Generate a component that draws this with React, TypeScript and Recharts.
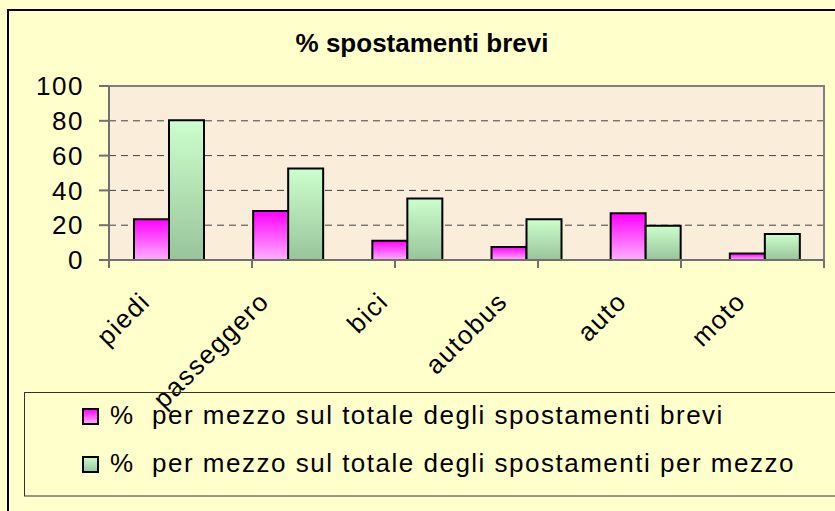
import React from 'react';
import { BarChart, Bar, XAxis, YAxis, CartesianGrid, ReferenceArea, Legend } from 'recharts';

const categories = ['piedi', 'passeggero', 'bici', 'autobus', 'auto', 'moto'];
const shortTripShare = [23.4, 28.1, 11.1, 7.5, 26.8, 3.8];
const perModeShare = [80.3, 52.6, 35.4, 23.4, 19.7, 14.9];
const yTicks = [0, 20, 40, 60, 80, 100];
const seriesNames = [
  '%  per mezzo sul totale degli spostamenti brevi',
  '%  per mezzo sul totale degli spostamenti per mezzo',
];
const chartTitle = '% spostamenti brevi';

const data = categories.map((c, i) => ({ name: c, brevi: shortTripShare[i], mezzo: perModeShare[i] }));
const boundaryTicks = [...categories.map((_, i) => i), categories.length];

const FONT = "'Liberation Sans', Arial, sans-serif";
const AXIS = '#707070';
const FS = 26;
const LS = 1.5;

const CatTick = (props: any) => {
  const { x, y, payload } = props;
  return (
    <g transform={`translate(${x - 17},${y + 42})`}>
      <text
        transform="rotate(-45)"
        textAnchor="end"
        fontSize={FS}
        letterSpacing={LS}
        fill="#000"
        fontFamily={FONT}
      >
        {payload.value}
      </text>
    </g>
  );
};

const EmptyTick = () => <g />;

const LegendBox = (props: any) => {
  const payload = props.payload || [];
  return (
    <svg width={830} height={110} style={{ display: 'block', overflow: 'visible' }}>
      <defs>
        <linearGradient id="lgPink" x1="0" y1="0" x2="0" y2="1">
          <stop offset="0%" stopColor="#ff00ff" />
          <stop offset="100%" stopColor="#ffb0ff" />
        </linearGradient>
        <linearGradient id="lgGreen" x1="0" y1="0" x2="0" y2="1">
          <stop offset="0%" stopColor="#ccffcc" />
          <stop offset="100%" stopColor="#99c49b" />
        </linearGradient>
      </defs>
      <rect x={0.5} y={0.5} width={829} height={103.5} fill="none" stroke="#333" strokeWidth={1} />
      {payload.map((entry: any, i: number) => (
        <g key={String(entry.dataKey)} transform={`translate(0,${i * 48})`}>
          <rect
            x={59}
            y={17}
            width={15}
            height={15}
            fill={entry.dataKey === 'brevi' ? 'url(#lgPink)' : 'url(#lgGreen)'}
            stroke="#000"
            strokeWidth={2}
          />
          <text
            x={86}
            y={32}
            fontSize={FS}
            letterSpacing={LS}
            fontFamily={FONT}
            fill="#000"
            style={{ whiteSpace: 'pre' }}
          >
            {entry.value}
          </text>
        </g>
      ))}
    </svg>
  );
};

export default function App() {
  return (
    <div
      style={{
        position: 'absolute',
        left: 0,
        top: 0,
        width: 835,
        height: 511,
        background: '#ffffcc',
        overflow: 'hidden',
        fontFamily: FONT,
      }}
    >
      <div
        style={{
          position: 'absolute',
          left: 7,
          top: 9,
          width: 1000,
          height: 1000,
          borderLeft: '2px solid #000',
          borderTop: '2px solid #000',
        }}
      />
      <div style={{ position: 'absolute', left: 0, top: 0 }}>
        <BarChart
          width={835}
          height={511}
          data={data}
          margin={{ top: 86, right: 11, left: 0, bottom: 111 }}
          barGap={0}
          barSize={35}
        >
          <defs>
            <linearGradient id="gPink" x1="0" y1="0" x2="0" y2="1">
              <stop offset="0%" stopColor="#ff00ff" />
              <stop offset="100%" stopColor="#ffb0ff" />
            </linearGradient>
            <linearGradient id="gGreen" x1="0" y1="0" x2="0" y2="1">
              <stop offset="0%" stopColor="#ccffcc" />
              <stop offset="100%" stopColor="#99c49b" />
            </linearGradient>
          </defs>
          <CartesianGrid
            vertical={false}
            fill="#faeedb"
            fillOpacity={1}
            stroke="#404040"
            strokeDasharray="7 5"
            xAxisId="cat"
          />
          <XAxis
            xAxisId="b"
            type="number"
            domain={[0, categories.length]}
            ticks={boundaryTicks}
            allowDataOverflow
            interval={0}
            tick={<EmptyTick />}
            tickSize={8}
            height={1}
            axisLine={{ stroke: AXIS, strokeWidth: 2 }}
            tickLine={{ stroke: AXIS, strokeWidth: 2 }}
          />
          <XAxis
            xAxisId="cat"
            dataKey="name"
            interval={0}
            height={139}
            axisLine={false}
            tickLine={false}
            tickSize={0}
            tickMargin={0}
            tick={<CatTick />}
          />
          <YAxis
            domain={[0, 100]}
            ticks={yTicks}
            width={109}
            tickSize={10}
            tickMargin={15}
            interval={0}
            axisLine={{ stroke: AXIS, strokeWidth: 2 }}
            tickLine={{ stroke: AXIS, strokeWidth: 2 }}
            tick={{ fill: '#000', fontSize: FS, fontFamily: FONT, letterSpacing: LS }}
          />
          <ReferenceArea
            xAxisId="cat"
            y1={0}
            y2={100}
            fill="none"
            stroke="#808080"
            strokeWidth={2}
          />
          <Bar
            xAxisId="cat"
            dataKey="brevi"
            name={seriesNames[0]}
            fill="url(#gPink)"
            stroke="#000"
            strokeWidth={2}
            isAnimationActive={false}
          />
          <Bar
            xAxisId="cat"
            dataKey="mezzo"
            name={seriesNames[1]}
            fill="url(#gGreen)"
            stroke="#000"
            strokeWidth={2}
            isAnimationActive={false}
          />
          <Legend
            layout="vertical"
            align="center"
            verticalAlign="middle"
            content={<LegendBox />}
            wrapperStyle={{ left: 24, top: 392, width: 830, height: 110 }}
          />
        </BarChart>
      </div>
      <svg
        width={835}
        height={511}
        style={{ position: 'absolute', left: 0, top: 0, pointerEvents: 'none' }}
      >
        <text
          x={422}
          y={52}
          textAnchor="middle"
          fontSize={26}
          fontWeight="bold"
          letterSpacing={0}
          fontFamily={FONT}
          fill="#000"
        >
          {chartTitle}
        </text>
      </svg>
    </div>
  );
}
